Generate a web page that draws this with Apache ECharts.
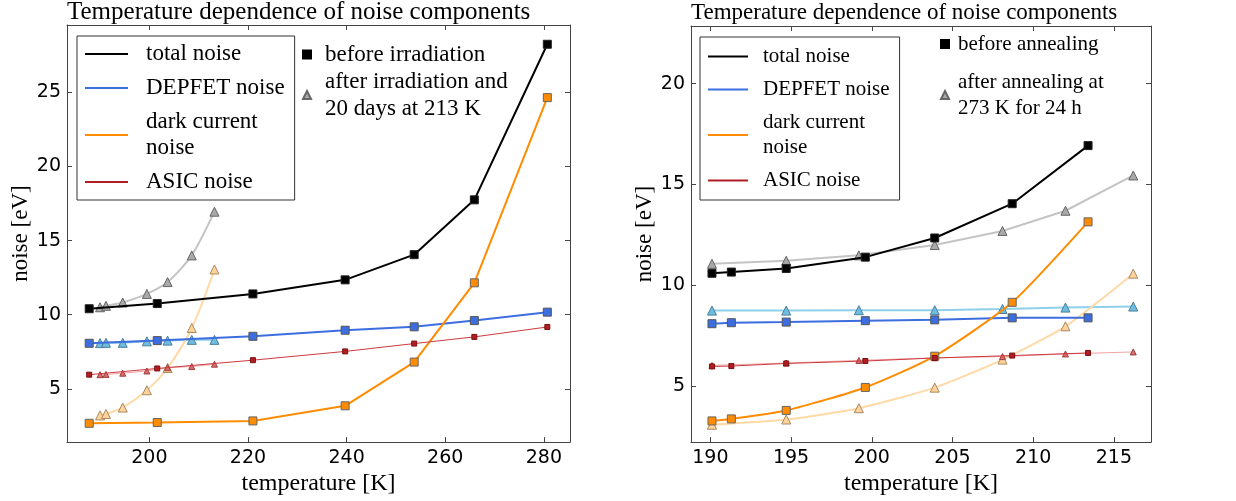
<!DOCTYPE html>
<html>
<head>
<meta charset="utf-8">
<script src="https://cdn.jsdelivr.net/npm/echarts@6/dist/echarts.min.js"></script>
<style>
html,body{margin:0;padding:0;background:#fff;}
#chart{width:1236px;height:501px;}
</style>
</head>
<body>
<div id="chart"></div>
<script>
// ---------- data: left panel (irradiation) ----------
const leftTempBefore   = [187.8, 201.6, 221.0, 239.7, 253.7, 265.9, 280.7];
const leftTotalBefore  = [10.4, 10.75, 11.4, 12.35, 14.05, 17.75, 28.25];
const leftDepfetBefore = [8.07, 8.25, 8.54, 8.95, 9.18, 9.6, 10.17];
const leftDarkBefore   = [2.67, 2.72, 2.83, 3.85, 6.8, 12.15, 24.65];
const leftAsicBefore   = [5.95, 6.37, 6.93, 7.52, 8.05, 8.5, 9.17];

const leftTempAfter    = [190.0, 191.2, 194.6, 199.5, 203.7, 208.6, 213.2];
const leftTotalAfter   = [10.5, 10.6, 10.82, 11.4, 12.2, 14.0, 16.95];
const leftDepfetAfter  = [8.08, 8.1, 8.1, 8.2, 8.25, 8.3, 8.3];
const leftDarkAfter    = [3.2, 3.3, 3.73, 4.9, 6.4, 9.1, 13.05];
const leftAsicAfter    = [5.95, 5.97, 6.05, 6.2, 6.42, 6.5, 6.66];

// ---------- data: right panel (annealing) ----------
const rightTempBefore   = [190.1, 191.3, 194.7, 199.6, 203.9, 208.7, 213.4];
const rightTotalBefore  = [10.6, 10.66, 10.84, 11.4, 12.35, 14.05, 16.93];
const rightDepfetBefore = [8.1, 8.15, 8.18, 8.25, 8.29, 8.39, 8.39];
const rightDarkBefore   = [3.28, 3.38, 3.8, 4.94, 6.49, 9.16, 13.15];
const rightAsicBefore   = [5.98, 6.0, 6.13, 6.25, 6.4, 6.52, 6.65];

const rightTempAfter    = [190.1, 194.7, 199.2, 203.9, 208.1, 212.0, 216.2];
const rightTotalAfter   = [11.07, 11.22, 11.49, 12.0, 12.7, 13.7, 15.45];
const rightDepfetAfter  = [8.75, 8.75, 8.77, 8.77, 8.83, 8.9, 8.95];
const rightDarkAfter    = [3.09, 3.35, 3.91, 4.93, 6.32, 7.97, 10.58];
const rightAsicAfter    = [6.03, 6.15, 6.28, 6.41, 6.47, 6.6, 6.7];

// ---------- text ----------
const titleText = 'Temperature dependence of noise components';
const componentNames = ['total noise', 'DEPFET noise', 'dark current\nnoise', 'ASIC noise'];
const leftMarkerNames = ['before irradiation', 'after irradiation and\n20 days at 213 K'];
const rightMarkerNames = ['before annealing', 'after annealing at\n273 K for 24 h'];
const xName = 'temperature [K]';
const yName = 'noise [eV]';

// ---------- styles ----------
const SERIF = 'Liberation Serif';
const SANS = 'DejaVu Sans';
const strong = [
  {line: '#000000', fill: '#000000', border: '#222', width: 2, size: 8},
  {line: '#3d6ee0', fill: '#3d6ee0', border: '#555', width: 2, size: 8},
  {line: '#ff8c00', fill: '#ff8c00', border: '#666', width: 2, size: 8},
  {line: '#cc3a3f', fill: '#b01e23', border: '#7a1010', width: 1, size: 5}
];
const light = [
  {line: '#c4c4c4', fill: '#a9a9a9', border: '#666', width: 2, size: 9},
  {line: '#8fd0ea', fill: '#6cbde0', border: '#4d7f99', width: 2, size: 9},
  {line: '#ffd9a6', fill: '#ffd39b', border: '#a88a60', width: 2, size: 9},
  {line: '#f2a3a3', fill: '#e06a6a', border: '#9a4040', width: 1, size: 6}
];
// smoothing per component (total, DEPFET, dark, ASIC)
const smoothLeftAfter = [0.25, false, 0.3, false];
const smoothRight = [false, false, 0.2, false];

function pts(xs, ys) { return xs.map((x, i) => [x, ys[i]]); }

function mk(name, idx, xs, ys, st, symbol, smooth, z) {
  return {
    name: name, type: 'line', xAxisIndex: idx, yAxisIndex: idx,
    data: pts(xs, ys), symbol: symbol, symbolSize: st.size,
    smooth: smooth, z: z,
    lineStyle: {color: st.line, width: st.width},
    itemStyle: {color: st.fill, borderColor: st.border, borderWidth: 1},
    emphasis: {disabled: true}, animation: false
  };
}

const series = [];
const leftAfter = [leftTotalAfter, leftDepfetAfter, leftDarkAfter, leftAsicAfter];
const leftBefore = [leftTotalBefore, leftDepfetBefore, leftDarkBefore, leftAsicBefore];
const rightAfter = [rightTotalAfter, rightDepfetAfter, rightDarkAfter, rightAsicAfter];
const rightBefore = [rightTotalBefore, rightDepfetBefore, rightDarkBefore, rightAsicBefore];
for (let i = 0; i < 4; i++) {
  series.push(mk(componentNames[i] + ' (after irr.)', 0, leftTempAfter, leftAfter[i], light[i], 'triangle', smoothLeftAfter[i], 2));
}
for (let i = 0; i < 4; i++) {
  series.push(mk(componentNames[i], 0, leftTempBefore, leftBefore[i], strong[i], 'rect', false, 3));
}
for (let i = 0; i < 4; i++) {
  series.push(mk(componentNames[i] + ' (after ann.)', 2, rightTempAfter, rightAfter[i], light[i], 'triangle', smoothRight[i], 2));
}
for (let i = 0; i < 4; i++) {
  series.push(mk(componentNames[i] + ' ', 2, rightTempBefore, rightBefore[i], strong[i], 'rect', smoothRight[i], 3));
}
// marker-key series (no data, only for the marker legends)
const keyStyles = [
  {color: '#000', borderColor: '#000', borderWidth: 1},
  {color: '#a9a9a9', borderColor: '#666', borderWidth: 1}
];
leftMarkerNames.concat(rightMarkerNames).forEach((n, i) => {
  series.push({name: n, type: 'line', xAxisIndex: 0, yAxisIndex: 0, data: [],
    itemStyle: keyStyles[i % 2], lineStyle: {width: 0}});
});

function axisCommon(gridIndex, pos, min, max, labels) {
  return {
    type: 'value', gridIndex: gridIndex, position: pos, min: min, max: max,
    axisLine: {show: true, onZero: false, lineStyle: {color: '#444', width: 1}},
    axisTick: {show: true, inside: true, length: 5, lineStyle: {color: '#444'}},
    axisLabel: {show: labels, showMinLabel: false, showMaxLabel: false,
      fontFamily: SANS, fontSize: 19, color: '#000', margin: 6},
    splitLine: {show: false}
  };
}

const xAxis = [
  Object.assign(axisCommon(0, 'bottom', 183.3, 285.3, true), {name: xName, nameLocation: 'middle', nameGap: 27,
    nameTextStyle: {fontFamily: SERIF, fontSize: 24, color: '#000'}}),
  axisCommon(0, 'top', 183.3, 285.3, false),
  Object.assign(axisCommon(1, 'bottom', 188.8, 217.3, true), {name: xName, nameLocation: 'middle', nameGap: 27,
    nameTextStyle: {fontFamily: SERIF, fontSize: 24, color: '#000'}}),
  axisCommon(1, 'top', 188.8, 217.3, false)
];
const yAxis = [
  Object.assign(axisCommon(0, 'left', 1.4, 29.55, true), {name: yName, nameLocation: 'middle', nameGap: 33,
    nameTextStyle: {fontFamily: SERIF, fontSize: 23, color: '#000'}}),
  axisCommon(0, 'right', 1.4, 29.55, false),
  Object.assign(axisCommon(1, 'left', 2.23, 22.86, true), {name: yName, nameLocation: 'middle', nameGap: 30,
    nameTextStyle: {fontFamily: SERIF, fontSize: 23, color: '#000'}}),
  axisCommon(1, 'right', 2.23, 22.86, false)
];

const option = {
  backgroundColor: '#fff',
  animation: false,
  title: [
    {text: titleText, left: 67, top: 0, padding: 0,
      textStyle: {fontFamily: SERIF, fontSize: 25, fontWeight: 'normal', color: '#000'}},
    {text: titleText, left: 691, top: 1, padding: 0,
      textStyle: {fontFamily: SERIF, fontSize: 23, fontWeight: 'normal', color: '#000'}}
  ],
  grid: [
    {left: 67, top: 25, width: 503, height: 418},
    {left: 691, top: 26, width: 460, height: 417}
  ],
  xAxis: xAxis,
  yAxis: yAxis,
  legend: [
    {left: 77, top: 36, orient: 'vertical', padding: [5, 10, 5, 8], itemGap: 8,
      itemWidth: 43, itemHeight: 2, icon: 'rect', selectedMode: false,
      borderColor: '#333', borderWidth: 1, backgroundColor: '#fff',
      itemStyle: {borderWidth: 0},
      textStyle: {fontFamily: SERIF, fontSize: 23, lineHeight: 26, color: '#000', padding: [0, 0, 0, 13]},
      data: componentNames},
    {left: 302, top: 41, orient: 'vertical', padding: 0, itemGap: 0,
      itemWidth: 8, itemHeight: 8, selectedMode: false,
      textStyle: {fontFamily: SERIF, fontSize: 23, lineHeight: 27, color: '#000', padding: [0, 0, 0, 9]},
      data: [{name: leftMarkerNames[0], icon: 'rect'}, {name: leftMarkerNames[1], icon: 'triangle'}]},
    {left: 700, top: 37, orient: 'vertical', padding: [7, 10, 7, 8], itemGap: 8,
      itemWidth: 40, itemHeight: 2, icon: 'rect', selectedMode: false,
      borderColor: '#333', borderWidth: 1, backgroundColor: '#fff',
      itemStyle: {borderWidth: 0},
      textStyle: {fontFamily: SERIF, fontSize: 21, lineHeight: 25, color: '#000', padding: [0, 0, 0, 10]},
      data: componentNames},
    {left: 940, top: 31, orient: 'vertical', padding: 0, itemGap: 12,
      itemWidth: 8, itemHeight: 8, selectedMode: false,
      textStyle: {fontFamily: SERIF, fontSize: 21, lineHeight: 26, color: '#000', padding: [0, 0, 0, 4]},
      data: [{name: rightMarkerNames[0], icon: 'rect'}, {name: rightMarkerNames[1], icon: 'triangle'}]}
  ],
  series: series
};

const chart = echarts.init(document.getElementById('chart'), null, {renderer: 'canvas'});
chart.setOption(option);
</script>
</body>
</html>
